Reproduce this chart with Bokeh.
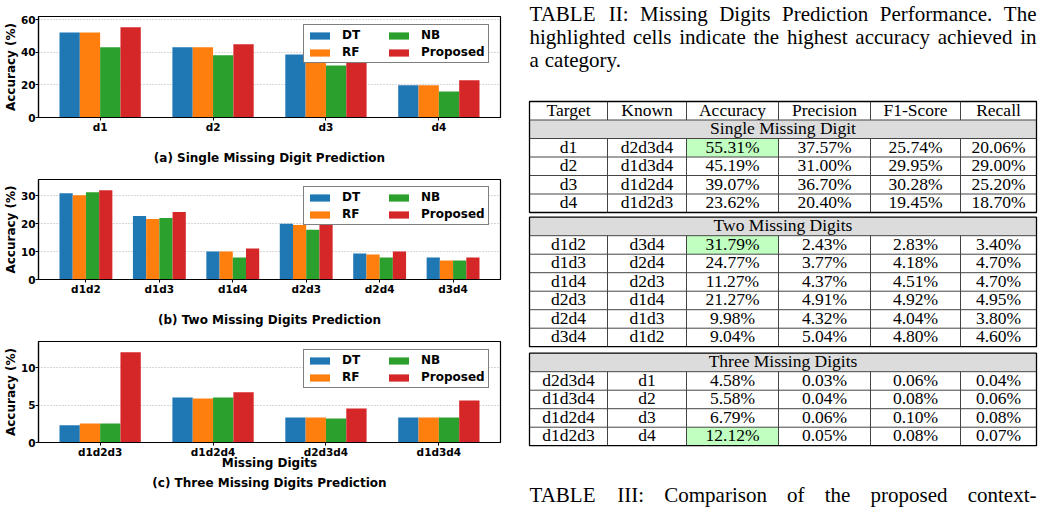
import numpy as np
from bokeh.plotting import figure
from bokeh.layouts import row, column
from bokeh.models import Range1d, FixedTicker, SingleIntervalTicker, LinearAxis, ColumnDataSource
from bokeh.core.properties import value
from bokeh.embed import file_html
from bokeh.resources import INLINE

# ---------------- bar chart data ----------------
series_names = ["DT", "RF", "NB", "Proposed"]
series_colors = ["#1f77b4", "#ff7f0e", "#2ca02c", "#d62728"]

single_cats = ["d1", "d2", "d3", "d4"]
single_dt = [52.2, 43.1, 38.7, 19.8]
single_rf = [52.2, 43.1, 38.7, 19.8]
single_nb = [43.1, 38.2, 31.9, 16.0]
single_prop = [55.3, 44.9, 39.1, 22.8]

two_cats = ["d1d2", "d1d3", "d1d4", "d2d3", "d2d4", "d3d4"]
two_dt = [30.8, 22.7, 10.0, 19.9, 9.3, 7.9]
two_rf = [30.1, 21.6, 10.0, 19.5, 8.9, 6.8]
two_nb = [31.2, 22.0, 7.9, 17.8, 7.9, 6.8]
two_prop = [31.9, 24.1, 11.1, 21.3, 10.0, 7.9]

three_cats = ["d1d2d3", "d1d2d4", "d2d3d4", "d1d3d4"]
three_dt = [2.30, 6.05, 3.36, 3.36]
three_rf = [2.56, 5.92, 3.36, 3.36]
three_nb = [2.56, 6.05, 3.23, 3.36]
three_prop = [12.1, 6.73, 4.57, 5.65]

# ---------------- table data ----------------
table_headers = ["Target", "Known", "Accuracy", "Precision", "F1-Score", "Recall"]
section_titles = ["Single Missing Digit", "Two Missing Digits", "Three Missing Digits"]

t1_target = ["d1", "d2", "d3", "d4"]
t1_known = ["d2d3d4", "d1d3d4", "d1d2d4", "d1d2d3"]
t1_acc = [55.31, 45.19, 39.07, 23.62]
t1_prec = [37.57, 31.00, 36.70, 20.40]
t1_f1 = [25.74, 29.95, 30.28, 19.45]
t1_rec = [20.06, 29.00, 25.20, 18.70]

t2_target = ["d1d2", "d1d3", "d1d4", "d2d3", "d2d4", "d3d4"]
t2_known = ["d3d4", "d2d4", "d2d3", "d1d4", "d1d3", "d1d2"]
t2_acc = [31.79, 24.77, 11.27, 21.27, 9.98, 9.04]
t2_prec = [2.43, 3.77, 4.37, 4.91, 4.32, 5.04]
t2_f1 = [2.83, 4.18, 4.51, 4.92, 4.04, 4.80]
t2_rec = [3.40, 4.70, 4.70, 4.95, 3.80, 4.60]

t3_target = ["d2d3d4", "d1d3d4", "d1d2d4", "d1d2d3"]
t3_known = ["d1", "d2", "d3", "d4"]
t3_acc = [4.58, 5.58, 6.79, 12.12]
t3_prec = [0.03, 0.04, 0.06, 0.05]
t3_f1 = [0.06, 0.08, 0.10, 0.08]
t3_rec = [0.04, 0.06, 0.08, 0.07]

caption_lines = [
    "TABLE II: Missing Digits Prediction Performance. The",
    "highlighted cells indicate the highest accuracy achieved in",
    "a category.",
]
next_caption = "TABLE III: Comparison of the proposed context-"

FONT = "DejaVu Sans"


def bar_chart(cats, series, ystep, height, b_top, b_bottom, subtitle, xlabel=None):
    n = len(cats)
    bw = 0.18
    pad = 0.05 * (n - 1 + 4 * bw)
    ymax = max(max(s) for s in series) * 1.12
    p = figure(width=520, height=height,
               x_range=Range1d(-2 * bw - pad, n - 1 + 2 * bw + pad),
               y_range=Range1d(0, ymax),
               output_backend="svg", toolbar_location=None,
               min_border_left=38, min_border_right=20,
               min_border_top=b_top, min_border_bottom=b_bottom)
    idx = np.arange(n)
    for k, (vals, name, color) in enumerate(zip(series, series_names, series_colors)):
        p.vbar(x=idx + (k - 1.5) * bw, top=vals, bottom=0, width=bw,
               fill_color=color, line_color=None, legend_label=name)

    p.outline_line_color = "black"
    p.outline_line_width = 1.2
    p.xgrid.visible = False
    p.ygrid.grid_line_color = "#b0b0b0"
    p.ygrid.grid_line_dash = "1 2"
    p.ygrid.grid_line_width = 1

    ax = p.xaxis[0]
    ax.ticker = FixedTicker(ticks=list(range(n)))
    ax.major_label_overrides = {i: c for i, c in enumerate(cats)}
    ax.major_label_text_font = FONT
    ax.major_label_text_font_size = "10.5px"
    ax.major_label_text_font_style = "bold"
    ax.major_label_text_color = "black"
    ax.major_tick_out = 3
    ax.major_tick_in = 0
    ax.minor_tick_line_color = None
    ax.major_label_standoff = 0
    ax.axis_line_color = "black"
    ax.axis_line_width = 1.2
    ax.axis_label_text_font = FONT
    ax.axis_label_text_font_size = "12px"
    ax.axis_label_text_font_style = "bold"
    ax.axis_label_text_color = "black"
    if xlabel is None:
        ax.axis_label = subtitle
        ax.axis_label_standoff = 15
    else:
        ax.axis_label = xlabel
        ax.axis_label_standoff = -5
        ax2 = LinearAxis(ticker=FixedTicker(ticks=[]), axis_label=subtitle,
                         axis_line_color=None, major_tick_line_color=None,
                         minor_tick_line_color=None, major_label_text_font_size="0px",
                         axis_label_standoff=3, axis_label_text_font=FONT,
                         axis_label_text_font_size="12px",
                         axis_label_text_font_style="bold",
                         axis_label_text_color="black")
        p.add_layout(ax2, "below")

    ay = p.yaxis[0]
    ay.ticker = SingleIntervalTicker(interval=ystep, num_minor_ticks=0)
    ay.axis_label = "Accuracy (%)"
    ay.axis_label_text_font = FONT
    ay.axis_label_text_font_size = "12px"
    ay.axis_label_text_font_style = "bold"
    ay.axis_label_text_color = "black"
    ay.axis_label_standoff = 0
    ay.major_label_text_font = FONT
    ay.major_label_text_font_size = "10.5px"
    ay.major_label_text_font_style = "bold"
    ay.major_label_text_color = "black"
    ay.major_tick_out = 3
    ay.major_tick_in = 0
    ay.minor_tick_line_color = None
    ay.major_label_standoff = 0
    ay.axis_line_color = "black"
    ay.axis_line_width = 1.2

    lg = p.legend[0]
    lg.location = (265, 54)
    lg.nrows = 2
    lg.glyph_width = 25
    lg.glyph_height = 9
    lg.label_height = 13
    lg.label_width = 41
    lg.spacing = 3
    lg.padding = 3
    lg.margin = 0
    lg.label_standoff = 10
    lg.label_text_font = FONT
    lg.label_text_font_size = "12px"
    lg.label_text_font_style = "bold"
    lg.label_text_color = "black"
    lg.border_line_color = "black"
    lg.border_line_width = 1.3
    lg.background_fill_alpha = 1.0
    return p


pa = bar_chart(single_cats, [single_dt, single_rf, single_nb, single_prop], 20,
               168, 16, 51, "(a) Single Missing Digit Prediction")
pb = bar_chart(two_cats, [two_dt, two_rf, two_nb, two_prop], 10,
               165, 11, 54, "(b) Two Missing Digits Prediction")
pc = bar_chart(three_cats, [three_dt, three_rf, three_nb, three_prop], 5,
               174, 8, 65, "(c) Three Missing Digits Prediction", xlabel="Missing Digits")

# ---------------- table panel ----------------
pt = figure(width=524, height=507, x_range=Range1d(520, 1044), y_range=Range1d(507, 0),
            min_border=0, x_axis_type=None, y_axis_type=None,
            output_backend="svg", toolbar_location=None)
pt.outline_line_color = None
pt.grid.visible = False

SERIF = "Liberation Serif"
col_edges = [529, 607, 686, 778, 870, 960, 1036]
col_centers = [(a + b) / 2 for a, b in zip(col_edges[:-1], col_edges[1:])]
row_h = 18.5
box_tops = [101, 216.7, 352.7]
text_dy = -1.0

sections = [
    (t1_target, t1_known, t1_acc, t1_prec, t1_f1, t1_rec),
    (t2_target, t2_known, t2_acc, t2_prec, t2_f1, t2_rec),
    (t3_target, t3_known, t3_acc, t3_prec, t3_f1, t3_rec),
]

band = dict(l=[], r=[], t=[], b=[])
green = dict(l=[], r=[], t=[], b=[])
box = dict(l=[], r=[], t=[], b=[])
seg = dict(x0=[], y0=[], x1=[], y1=[])
txt = dict(x=[], y=[], s=[])


def add_vlines(y0, y1):
    for xe in col_edges[1:-1]:
        seg["x0"].append(xe); seg["x1"].append(xe)
        seg["y0"].append(y0); seg["y1"].append(y1)


def add_hline(y):
    seg["x0"].append(col_edges[0]); seg["x1"].append(col_edges[-1])
    seg["y0"].append(y); seg["y1"].append(y)


for si, (tg, kn, acc, prec, f1, rec) in enumerate(sections):
    y = box_tops[si]
    top = y
    if si == 0:
        for c, h in zip(col_centers, table_headers):
            txt["x"].append(c); txt["y"].append(y + row_h / 2 + text_dy); txt["s"].append(h)
        add_vlines(y, y + row_h)
        y += row_h
        add_hline(y)
    band["l"].append(col_edges[0]); band["r"].append(col_edges[-1])
    band["t"].append(y); band["b"].append(y + row_h)
    txt["x"].append((col_edges[0] + col_edges[-1]) / 2)
    txt["y"].append(y + row_h / 2 + text_dy)
    txt["s"].append(section_titles[si])
    y += row_h
    add_hline(y)
    data_top = y
    best = int(np.argmax(acc))
    for j in range(len(tg)):
        cells = [tg[j], kn[j]] + ["%.2f%%" % v for v in (acc[j], prec[j], f1[j], rec[j])]
        for c, s in zip(col_centers, cells):
            txt["x"].append(c); txt["y"].append(y + row_h / 2 + text_dy); txt["s"].append(s)
        if j == best:
            green["l"].append(col_edges[2]); green["r"].append(col_edges[3])
            green["t"].append(y); green["b"].append(y + row_h)
        y += row_h
        if j < len(tg) - 1:
            add_hline(y)
    add_vlines(data_top, y)
    box["l"].append(col_edges[0]); box["r"].append(col_edges[-1])
    box["t"].append(top); box["b"].append(y)

pt.quad(left="l", right="r", top="t", bottom="b", source=ColumnDataSource(band),
        fill_color="#dcdcdc", line_color=None)
pt.quad(left="l", right="r", top="t", bottom="b", source=ColumnDataSource(green),
        fill_color="#c1ffc1", line_color=None)
pt.segment(x0="x0", y0="y0", x1="x1", y1="y1", source=ColumnDataSource(seg),
           line_color="#444444", line_width=1)
pt.quad(left="l", right="r", top="t", bottom="b", source=ColumnDataSource(box),
        fill_color=None, line_color="black", line_width=1.3)
pt.text(x="x", y="y", text="s", source=ColumnDataSource(txt),
        text_align="center", text_baseline="middle",
        text_font=value(SERIF), text_font_size="17.5px", text_color="black")

# ---------------- captions (justified) ----------------
TW = {" ": 250, "!": 333, "%": 833, "(": 333, ")": 333, "-": 333, ".": 250, ":": 278,
      "A": 722, "B": 667, "C": 667, "D": 722, "E": 611, "F": 556, "G": 722, "H": 722,
      "I": 333, "J": 389, "K": 722, "L": 611, "M": 889, "N": 722, "O": 722, "P": 556,
      "R": 667, "S": 556, "T": 611, "U": 722, "V": 722, "W": 944,
      "a": 444, "b": 500, "c": 444, "d": 500, "e": 444, "f": 333, "g": 500, "h": 500,
      "i": 278, "j": 278, "k": 500, "l": 278, "m": 778, "n": 500, "o": 500, "p": 500,
      "q": 500, "r": 333, "s": 389, "t": 278, "u": 500, "v": 500, "w": 722, "x": 500,
      "y": 500, "z": 444}
CAP_SIZE = 21


def tw(s):
    return sum(TW.get(ch, 500) for ch in s) / 1000.0 * CAP_SIZE


cap = dict(x=[], y=[], s=[], a=[])
x_left, x_right = 529, 1036


def place_line(line, ybase, justify=True):
    words = line.split(" ")
    widths = [tw(w) for w in words]
    if justify and len(words) > 1:
        gap = (x_right - x_left - sum(widths)) / (len(words) - 1)
    else:
        gap = tw(" ")
    x = x_left
    for k, (w, wd) in enumerate(zip(words, widths)):
        if justify and k == len(words) - 1 and len(words) > 1:
            cap["x"].append(x_right); cap["a"].append("right")
        elif k == 0:
            cap["x"].append(x); cap["a"].append("left")
        else:
            cap["x"].append(x + wd / 2); cap["a"].append("center")
        cap["y"].append(ybase); cap["s"].append(w)
        x += wd + gap


place_line(caption_lines[0], 13.5)
place_line(caption_lines[1], 36.5)
place_line(caption_lines[2], 59.5, justify=False)
place_line(next_caption, 494.5)

pt.text(x="x", y="y", text="s", text_align="a", source=ColumnDataSource(cap),
        text_baseline="alphabetic", text_font=value(SERIF),
        text_font_size="%dpx" % CAP_SIZE, text_color="black")

layout = row(column(pa, pb, pc), pt)
open("out.html", "w").write(file_html(layout, INLINE))
